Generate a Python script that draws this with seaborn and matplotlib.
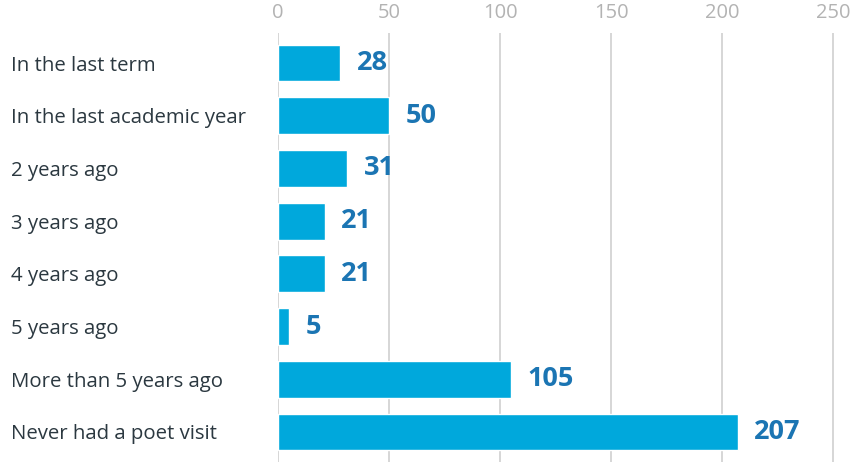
import matplotlib
matplotlib.use("Agg")
import matplotlib.pyplot as plt
import matplotlib.transforms as mtransforms
import seaborn as sns
import pandas as pd

categories = ["In the last term", "In the last academic year", "2 years ago", "3 years ago",
              "4 years ago", "5 years ago", "More than 5 years ago", "Never had a poet visit"]
values = [28, 50, 31, 21, 21, 5, 105, 207]
xticks = [0, 50, 100, 150, 200, 250]

df = pd.DataFrame({"cat": categories, "val": values})

sns.set_theme(style="white")
plt.rcParams['font.family'] = ['Open Sans', 'DejaVu Sans']

W, H = 856, 462
fig = plt.figure(figsize=(W / 100, H / 100), dpi=100)
ax = fig.add_axes([278 / W, 0, (W - 278) / W, (H - 33) / H])

sns.barplot(data=df, x="val", y="cat", orient="h", color="#00a8dc", saturation=1,
            width=0.7, ax=ax)

ax.set_xlim(0, (W - 278) / 2.22)
ax.set_ylim(7 + (462 - 432) / 52.71, -(63 - 33) / 52.71)
ax.set_xticks(xticks)
ax.xaxis.tick_top()
ax.tick_params(axis="x", length=0, pad=7, labelsize=14.5, labelcolor="#b3b3b3")
ax.grid(axis="x", color="#d0d0d0", linewidth=1.2)
ax.set_axisbelow(True)
ax.set_xlabel("")
ax.set_ylabel("")
for s in ax.spines.values():
    s.set_visible(False)

ax.tick_params(axis="y", length=0, pad=192, labelsize=14.7, labelcolor="#2b3840")
for lab in ax.get_yticklabels():
    lab.set_horizontalalignment("left")

texts = ax.bar_label(ax.containers[0], labels=[str(v) for v in values], padding=12,
                     fontsize=19.5, fontweight="bold", color="#1b75b3")
shift = mtransforms.ScaledTranslation(0, -2 / 100, fig.dpi_scale_trans)
for t in texts:
    t.set_transform(t.get_transform() + shift)

fig.savefig("out.png", dpi=100)
